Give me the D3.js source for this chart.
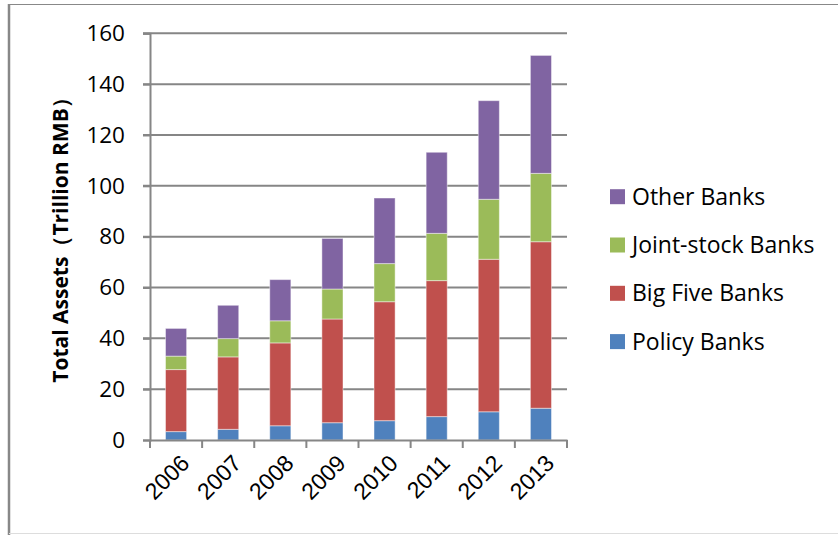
<!DOCTYPE html>
<html>
<head>
<meta charset="utf-8">
<script src="https://cdn.jsdelivr.net/npm/d3@7"></script>
<style>
  body { margin: 0; background: #fff; }
  svg { display: block; font-family: "Open Sans", "Noto Sans", sans-serif; }
</style>
</head>
<body>
<script>
const years = ["2006", "2007", "2008", "2009", "2010", "2011", "2012", "2013"];
const policyBanks = [3.3, 4.2, 5.6, 6.8, 7.6, 9.2, 11.1, 12.5];
const bigFiveBanks = [24.4, 28.5, 32.6, 40.8, 46.8, 53.5, 60.0, 65.5];
const jointStockBanks = [5.3, 7.2, 8.7, 11.8, 15.0, 18.6, 23.6, 26.9];
const otherBanks = [10.9, 13.1, 16.2, 19.9, 25.8, 31.9, 38.8, 46.4];
const yTicks = [0, 20, 40, 60, 80, 100, 120, 140, 160];

const seriesNames = ["Policy Banks", "Big Five Banks", "Joint-stock Banks", "Other Banks"];
const colors = ["#4F81BD", "#C0504D", "#9BBB59", "#8064A2"];

const table = years.map((y, i) => ({
  year: y,
  "Policy Banks": policyBanks[i],
  "Big Five Banks": bigFiveBanks[i],
  "Joint-stock Banks": jointStockBanks[i],
  "Other Banks": otherBanks[i],
}));
const stacked = d3.stack().keys(seriesNames)(table);

const w = 838;
const h = 535;
const plotLeft = 150, plotRight = 567, plotTop = 33.3, plotBottom = 440;

const svg = d3.select("body").append("svg").attr("width", w).attr("height", h);

// outer frame
svg.append("line").attr("x1", 8).attr("x2", w).attr("y1", 4.5).attr("y2", 4.5)
  .attr("stroke", "#888").attr("stroke-width", 1);
svg.append("line").attr("x1", 9).attr("x2", 9).attr("y1", 4).attr("y2", h)
  .attr("stroke", "#888").attr("stroke-width", 2.5);
svg.append("line").attr("x1", 9).attr("x2", w).attr("y1", 533.5).attr("y2", 533.5)
  .attr("stroke", "#ddd").attr("stroke-width", 1);

const x = d3.scaleBand().domain(years).range([plotLeft, plotRight]).paddingInner(0.595).paddingOuter(0.2975);
const y = d3.scaleLinear().domain([0, 160]).range([plotBottom, plotTop]);

// gridlines
svg.append("g")
  .selectAll("line")
  .data(yTicks.filter((d) => d > 0))
  .enter()
  .append("line")
  .attr("x1", plotLeft - 7)
  .attr("x2", plotRight)
  .attr("y1", (d) => y(d))
  .attr("y2", (d) => y(d))
  .attr("stroke", "#868686")
  .attr("stroke-width", 2);

// bars
svg.append("g")
  .selectAll("g")
  .data(stacked)
  .enter()
  .append("g")
  .attr("fill", (d, i) => colors[i])
  .selectAll("rect")
  .data((d) => d)
  .enter()
  .append("rect")
  .attr("x", (d) => x(d.data.year))
  .attr("y", (d) => y(d[1]))
  .attr("width", x.bandwidth())
  .attr("height", (d) => y(d[0]) - y(d[1]))
  .attr("stroke", "rgba(255,255,255,0.45)")
  .attr("stroke-width", 1);

// y axis
const yAxis = svg.append("g")
  .attr("transform", `translate(${plotLeft},0)`)
  .call(d3.axisLeft(y).tickValues(yTicks).tickSize(7).tickPadding(18));
yAxis.select(".domain").attr("stroke", "#868686").attr("stroke-width", 2);
yAxis.selectAll(".tick line").attr("stroke", "#868686").attr("stroke-width", 2);
yAxis.selectAll("text").attr("font-size", 22.5).attr("fill", "#000")
  .attr("font-family", "'Open Sans', sans-serif");

// x axis
const xStep = (plotRight - plotLeft) / years.length;
const xAxis = svg.append("g")
  .attr("transform", `translate(0,${plotBottom})`)
  .call(d3.axisBottom(x).tickSize(0).tickFormat(""));
xAxis.select(".domain").attr("stroke", "#868686").attr("stroke-width", 2);
xAxis.append("g")
  .selectAll("line")
  .data(d3.range(years.length + 1))
  .enter()
  .append("line")
  .attr("x1", (i) => plotLeft + i * xStep)
  .attr("x2", (i) => plotLeft + i * xStep)
  .attr("y1", 0)
  .attr("y2", 8)
  .attr("stroke", "#868686")
  .attr("stroke-width", 2);
xAxis.append("g")
  .selectAll("text")
  .data(years)
  .enter()
  .append("text")
  .attr("transform", (d) => `translate(${x(d) + x.bandwidth() / 2 + 9},${19}) rotate(-45)`)
  .attr("text-anchor", "end")
  .attr("dy", "0.35em")
  .attr("font-size", 23)
  .attr("fill", "#000")
  .text((d) => d);

// y axis title
svg.append("text")
  .attr("transform", `translate(61,235) rotate(-90)`)
  .attr("text-anchor", "middle")
  .attr("dy", "0.35em")
  .attr("font-size", 21)
  .attr("font-weight", "bold")
  .attr("fill", "#000")
  .text("Total Assets（Trillion RMB）");

// legend
const legendOrder = [3, 2, 1, 0];
const legend = svg.append("g")
  .selectAll("g")
  .data(legendOrder)
  .enter()
  .append("g")
  .attr("transform", (d, i) => `translate(610,${196.7 + i * 48.3})`);
legend.append("rect")
  .attr("x", 0).attr("y", -7.5).attr("width", 15).attr("height", 15)
  .attr("fill", (d) => colors[d]);
legend.append("text")
  .attr("x", 22)
  .attr("dy", "0.35em")
  .attr("font-size", 23)
  .attr("fill", "#000")
  .text((d) => seriesNames[d]);
</script>
</body>
</html>
